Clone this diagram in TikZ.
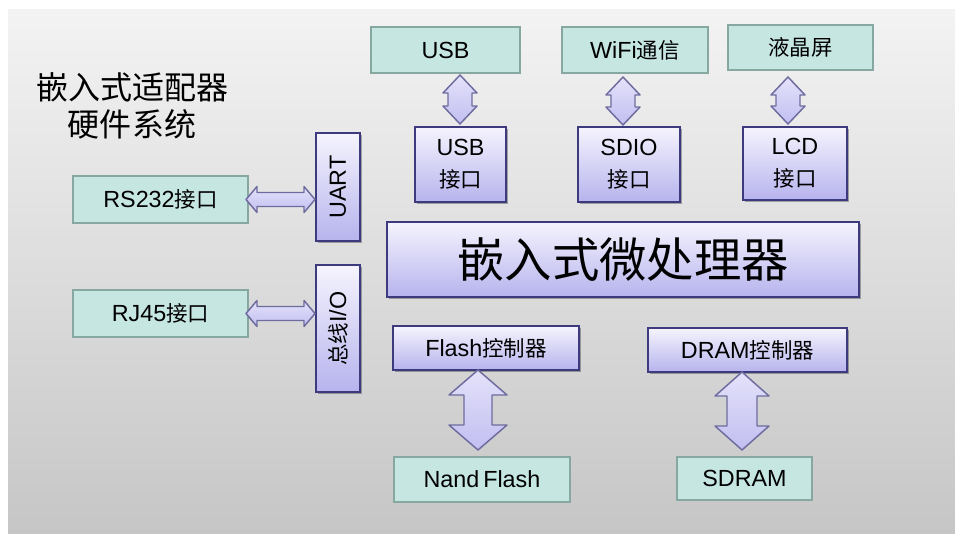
\documentclass[tikz,border=0pt]{standalone}
\usepackage{fontspec}
\usepackage{graphicx}
\setmainfont{Liberation Sans}
\newfontfamily\cjk[Scale=0.92]{Noto Sans CJK SC}
\newfontfamily\cjkbig{Noto Sans CJK SC}
\usetikzlibrary{calc,shadows}

\definecolor{bgtop}{HTML}{F3F3F3}
\definecolor{bgbot}{HTML}{C6C6C6}
\definecolor{tealfill}{HTML}{C6E6E2}
\definecolor{tealline}{HTML}{86A8A1}
\definecolor{purptop}{HTML}{F5F4FD}
\definecolor{purpbot}{HTML}{B7B3EE}
\definecolor{purpline}{HTML}{3D3B7E}
\definecolor{arrtop}{HTML}{E4E2FA}
\definecolor{arrbot}{HTML}{C2BEF1}
\definecolor{arrline}{HTML}{6E6C9E}

\tikzset{
  tealbox/.style={draw=tealline, fill=tealfill, line width=1.5pt,
    inner sep=0pt, outer sep=0pt, align=center,
    font=\fontsize{17.5}{24}\selectfont},
  purplebox/.style={draw=purpline, top color=purptop, bottom color=purpbot,
    line width=1.1pt, inner sep=0pt, outer sep=0pt, align=center,
    drop shadow={shadow xshift=1.6pt, shadow yshift=-1.6pt, opacity=0.3, fill=black},
    font=\fontsize{17.5}{24}\selectfont},
  blockarrow/.style={draw=arrline, top color=arrtop, bottom color=arrbot,
    line width=1.1pt, line join=round},
}

% box given by its pixel corners: name, x1, y1, x2, y2, style, text
\newcommand\pbox[7]{%
  \node[#6, minimum width={(#4-#2)*0.75pt}, minimum height={(#5-#3)*0.75pt}]
    (#1) at ({(#2+#4)/2},{(#3+#5)/2}) {#7};}

% vertical two-headed block arrow from upper node to lower node
% #3 centre x (px), #4 head half width, #5 body half width, #6 head length,
% #7 gap below upper node, #8 gap above lower node (all px)
\newcommand\vlink[8]{%
  \draw[blockarrow] let \p1=(#1.south), \p2=(#2.north),
      \n1={#4*0.75pt}, \n2={#5*0.75pt}, \n3={#6*0.75pt},
      \n4={#7*0.75pt}, \n5={#8*0.75pt}, \n6={#3*0.75pt} in
    (\n6,\y1-\n4) -- (\n6+\n1,\y1-\n4-\n3) -- (\n6+\n2,\y1-\n4-\n3)
    -- (\n6+\n2,\y2+\n5+\n3) -- (\n6+\n1,\y2+\n5+\n3) -- (\n6,\y2+\n5)
    -- (\n6-\n1,\y2+\n5+\n3) -- (\n6-\n2,\y2+\n5+\n3)
    -- (\n6-\n2,\y1-\n4-\n3) -- (\n6-\n1,\y1-\n4-\n3) -- cycle;}

% horizontal two-headed block arrow from left node to right node
% #3 head half height, #4 body half height, #5 head length,
% #6 gap after left node, #7 gap before right node (all px)
\newcommand\hlink[7]{%
  \draw[blockarrow] let \p1=(#1.east), \p2=(#2.west),
      \n1={#3*0.75pt}, \n2={#4*0.75pt}, \n3={#5*0.75pt},
      \n4={#6*0.75pt}, \n5={#7*0.75pt} in
    (\x1+\n4,\y1) -- (\x1+\n4+\n3,\y1+\n1) -- (\x1+\n4+\n3,\y1+\n2)
    -- (\x2-\n5-\n3,\y1+\n2) -- (\x2-\n5-\n3,\y1+\n1) -- (\x2-\n5,\y1)
    -- (\x2-\n5-\n3,\y1-\n1) -- (\x2-\n5-\n3,\y1-\n2)
    -- (\x1+\n4+\n3,\y1-\n2) -- (\x1+\n4+\n3,\y1-\n1) -- cycle;}

\begin{document}
\begin{tikzpicture}[x=0.75pt, y=-0.75pt]
  \useasboundingbox (0,0) rectangle (955,534);
  \fill[white] (0,0) rectangle (955,534);
  \shade[top color=bgtop, bottom color=bgbot] (8,10) rectangle (955,534);

  % title
  \node[font=\cjkbig\fontsize{24}{27.8}\selectfont, align=center] (title)
    at (132,106) {嵌入式适配器\\硬件系统};

  % peripherals on top
  \pbox{usb}{371}{27}{520}{73}{tealbox}{USB}
  \pbox{wifi}{562}{27}{708}{73}{tealbox}{WiFi{\cjk 通信}}
  \pbox{lcdscr}{728}{25}{873}{70}{tealbox}{{\cjk 液晶屏}}

  % interface blocks
  \pbox{usbif}{415}{127}{506}{202}{purplebox}{USB\\{\cjk 接口}}
  \pbox{sdio}{578}{127}{680}{202}{purplebox}{SDIO\\{\cjk 接口}}
  \pbox{lcdif}{743}{127}{847}{200}{purplebox}{LCD\\{\cjk 接口}}

  % processor
  \pbox{cpu}{387}{222}{859}{297}{purplebox,font=\cjkbig\fontsize{35.5}{40}\selectfont}{嵌入式微处理器}

  % left side
  \pbox{uart}{316}{133}{360}{241}{purplebox}{\rotatebox{90}{UART}}
  \pbox{bus}{316}{265}{360}{392}{purplebox}{\rotatebox{90}{{\cjk 总线}I/O}}
  \pbox{rs232}{73}{176}{248}{223}{tealbox}{RS232{\cjk 接口}}
  \pbox{rj45}{73}{290}{248}{337}{tealbox}{RJ45{\cjk 接口}}

  % memory side
  \pbox{flashc}{393}{326}{579}{370}{purplebox}{Flash{\cjk 控制器}}
  \pbox{dramc}{648}{328}{847}{372}{purplebox}{DRAM{\cjk 控制器}}
  \pbox{nand}{394}{457}{570}{502}{tealbox}{Nand\,Flash}
  \pbox{sdram}{677}{457}{812}{500}{tealbox}{SDRAM}

  % links
  \vlink{usb}{usbif}{460}{17}{12}{18}{2}{3}
  \vlink{wifi}{sdio}{623}{17}{12}{18}{4}{2}
  \vlink{lcdscr}{lcdif}{788}{17}{12}{18}{7}{3}
  \hlink{rs232}{uart}{13}{7}{11}{-2}{1}
  \hlink{rj45}{bus}{13}{7}{11}{-2}{1}
  \vlink{flashc}{nand}{478}{29}{14}{25}{0}{7}
  \vlink{dramc}{sdram}{742}{27}{15}{24}{0}{7}
\end{tikzpicture}
\end{document}
